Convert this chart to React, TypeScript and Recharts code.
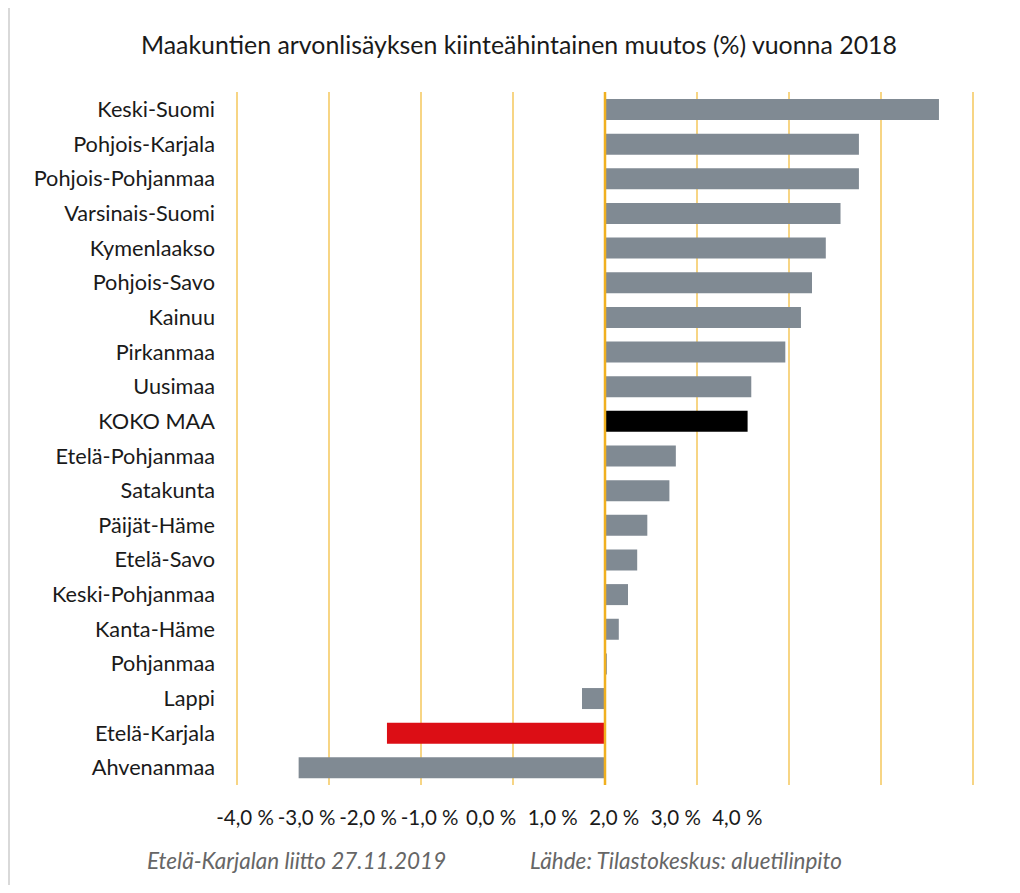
import React from 'react';
import { BarChart, Bar, XAxis, YAxis, CartesianGrid, ReferenceLine, Cell } from 'recharts';

// Maakunnat järjestyksessä ylhäältä alas
const regions = [
  'Keski-Suomi', 'Pohjois-Karjala', 'Pohjois-Pohjanmaa', 'Varsinais-Suomi', 'Kymenlaakso',
  'Pohjois-Savo', 'Kainuu', 'Pirkanmaa', 'Uusimaa', 'KOKO MAA',
  'Etelä-Pohjanmaa', 'Satakunta', 'Päijät-Häme', 'Etelä-Savo', 'Keski-Pohjanmaa',
  'Kanta-Häme', 'Pohjanmaa', 'Lappi', 'Etelä-Karjala', 'Ahvenanmaa',
];

// Muutos (%) 2018
const growth = [
  3.63, 2.76, 2.76, 2.56, 2.4,
  2.25, 2.13, 1.96, 1.59, 1.55,
  0.77, 0.7, 0.46, 0.35, 0.25,
  0.15, 0.02, -0.25, -2.37, -3.33,
];

const tickValues = [-4, -3, -2, -1, 0, 1, 2, 3, 4];

const TOTAL = 'KOKO MAA';
const OWN_REGION = 'Etelä-Karjala';

const data = regions.map((name, i) => ({ name, value: growth[i] }));

const FONT = 'Lato, "Open Sans", sans-serif';
const GRID = '#F2B933';

const fmt = (v: number) => `${v.toFixed(1).replace('.', ',')} %`;

export default function App() {
  return (
    <div
      style={{
        position: 'relative', width: 1020, height: 893, margin: -8,
        overflow: 'hidden', background: '#fff', fontFamily: FONT,
      }}
    >
      <div
        style={{
          position: 'absolute', left: 8, top: 5, width: 1040, height: 920,
          border: '2px solid #d9d9d9',
        }}
      />
      <div
        style={{
          position: 'absolute', left: 0, top: 29, width: 1038, textAlign: 'center',
          fontSize: 24.9, color: '#1a1a1a', whiteSpace: 'nowrap',
        }}
      >
        Maakuntien arvonlisäyksen kiinteähintainen muutos (%) vuonna 2018
      </div>

      <div style={{ position: 'absolute', left: 0, top: 0 }}>
        <BarChart
          width={1020}
          height={893}
          data={data}
          layout="vertical"
          margin={{ top: 92, right: 47, bottom: 68, left: 0 }}
          barSize={21}
        >
          <CartesianGrid xAxisId="val" horizontal={false} stroke={GRID} strokeWidth={1.2} />
          <XAxis xAxisId="val" type="number" domain={[-4, 4]} ticks={tickValues} hide />
          {/* akselin otsikot ovat alkuperäisessä kuvassa tiiviisti vasemmalla */}
          <XAxis
            xAxisId="lbl"
            type="number"
            domain={[-4.13, 7.83]}
            ticks={tickValues}
            interval={0}
            allowDataOverflow
            height={40}
            axisLine={false}
            tickLine={false}
            tickSize={0}
            tickMargin={25}
            tickFormatter={fmt}
            tick={{ fontSize: 20.5, fill: '#1a1a1a', fontFamily: FONT }}
          />
          <YAxis
            type="category"
            dataKey="name"
            width={237}
            axisLine={false}
            tickLine={false}
            tickSize={0}
            tickMargin={22}
            interval={0}
            tick={{ fontSize: 21.7, fill: '#1a1a1a', fontFamily: FONT }}
          />
          <Bar xAxisId="val" dataKey="value" isAnimationActive={false}>
            {data.map((d) => (
              <Cell
                key={d.name}
                fill={d.name === TOTAL ? '#000000' : d.name === OWN_REGION ? '#DC0E15' : '#808A93'}
              />
            ))}
          </Bar>
          <ReferenceLine xAxisId="val" x={0} stroke="#F0B020" strokeWidth={2.5} />
        </BarChart>
      </div>

      <div
        style={{
          position: 'absolute', left: 147, top: 847, fontSize: 22.5, fontStyle: 'italic',
          color: '#666666', whiteSpace: 'nowrap',
        }}
      >
        Etelä-Karjalan liitto 27.11.2019
      </div>
      <div
        style={{
          position: 'absolute', left: 530, top: 847, fontSize: 22.5, fontStyle: 'italic',
          color: '#666666', whiteSpace: 'nowrap',
        }}
      >
        Lähde: Tilastokeskus: aluetilinpito
      </div>
    </div>
  );
}
